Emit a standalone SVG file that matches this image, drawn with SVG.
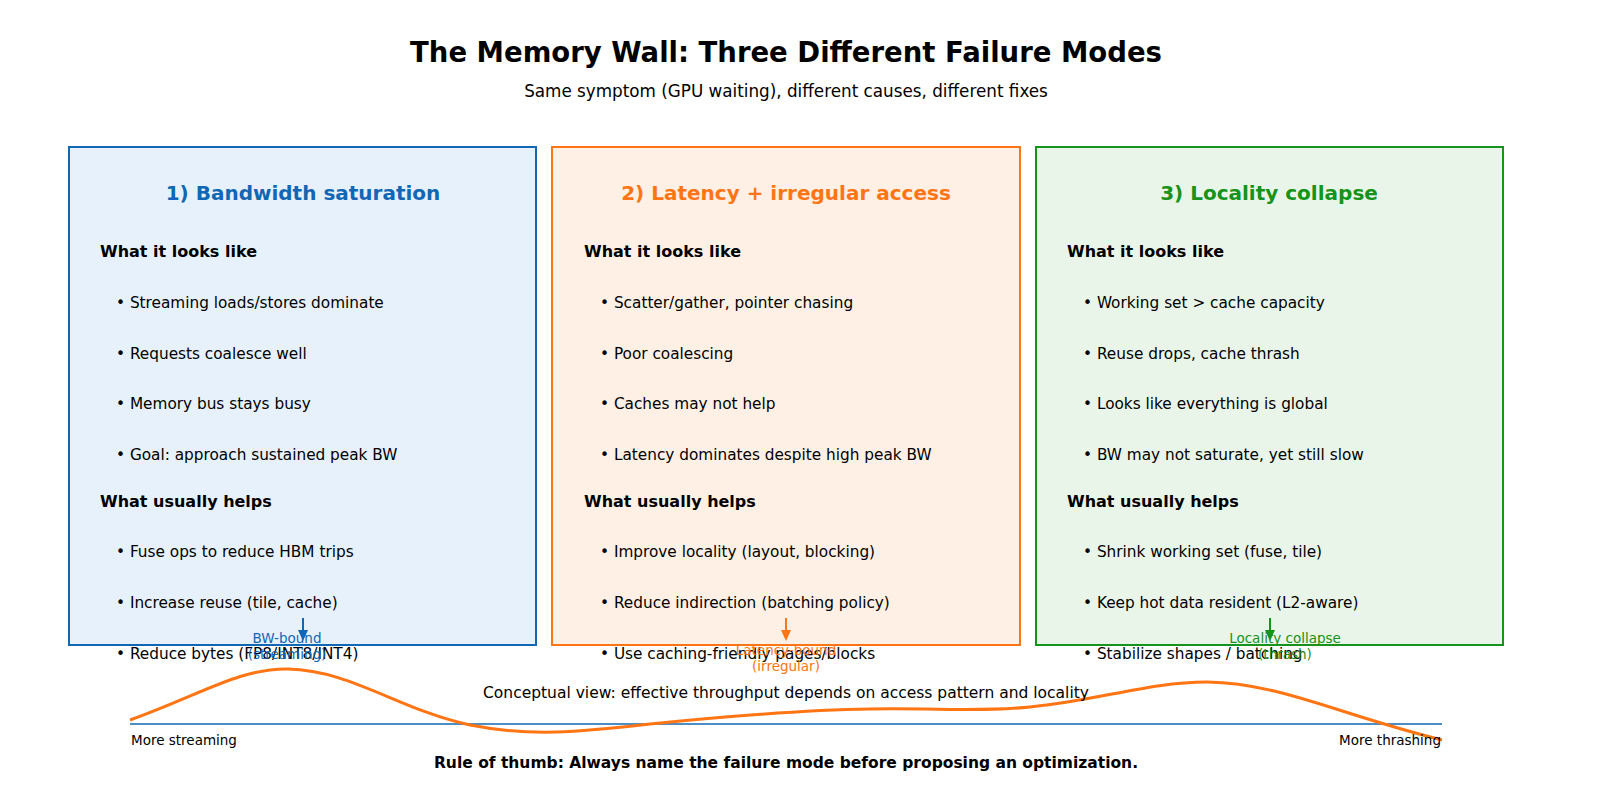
<svg xmlns="http://www.w3.org/2000/svg" width="1600" height="812" viewBox="0 0 1600 812">
<defs>
<style>
text{font-family:"DejaVu Sans",sans-serif;}
.t{font-size:27.5px;font-weight:bold;text-anchor:middle;fill:#000}
.s{font-size:16.8px;text-anchor:middle;fill:#000}
.h{font-size:20px;font-weight:bold;text-anchor:middle}
.k{font-size:16px;font-weight:bold;fill:#000}
.b{font-size:15.3px;fill:#000}
.l{font-size:13.5px;text-anchor:middle}
</style>
</defs>
<rect width="1600" height="812" fill="#fff"/>
<text class="t" x="786" y="62">The Memory Wall: Three Different Failure Modes</text>
<text class="s" x="786" y="97">Same symptom (GPU waiting), different causes, different fixes</text>
<g id="node1">
<rect x="69" y="147" width="467" height="498" fill="#e6f1fc" stroke="#1167b1" stroke-width="2"/>
<text class="h" x="303" y="200" fill="#1167b1">1) Bandwidth saturation</text>
<text class="k" x="100" y="257">What it looks like</text>
<text class="b" x="116" y="308">• Streaming loads/stores dominate</text>
<text class="b" x="116" y="359">• Requests coalesce well</text>
<text class="b" x="116" y="409">• Memory bus stays busy</text>
<text class="b" x="116" y="460">• Goal: approach sustained peak BW</text>
<text class="k" x="100" y="507">What usually helps</text>
<text class="b" x="116" y="557">• Fuse ops to reduce HBM trips</text>
<text class="b" x="116" y="608">• Increase reuse (tile, cache)</text>
<text class="b" x="116" y="659">• Reduce bytes (FP8/INT8/INT4)</text>
</g>
<g id="node2">
<rect x="552" y="147" width="468" height="498" fill="#fef0e5" stroke="#ff7514" stroke-width="2"/>
<text class="h" x="786" y="200" fill="#ff7514">2) Latency + irregular access</text>
<text class="k" x="584" y="257">What it looks like</text>
<text class="b" x="600" y="308">• Scatter/gather, pointer chasing</text>
<text class="b" x="600" y="359">• Poor coalescing</text>
<text class="b" x="600" y="409">• Caches may not help</text>
<text class="b" x="600" y="460">• Latency dominates despite high peak BW</text>
<text class="k" x="584" y="507">What usually helps</text>
<text class="b" x="600" y="557">• Improve locality (layout, blocking)</text>
<text class="b" x="600" y="608">• Reduce indirection (batching policy)</text>
<text class="b" x="600" y="659">• Use caching-friendly pages/blocks</text>
</g>
<g id="node3">
<rect x="1036" y="147" width="467" height="498" fill="#e9f5e9" stroke="#17921a" stroke-width="2"/>
<text class="h" x="1269" y="200" fill="#17921a">3) Locality collapse</text>
<text class="k" x="1067" y="257">What it looks like</text>
<text class="b" x="1083" y="308">• Working set &gt; cache capacity</text>
<text class="b" x="1083" y="359">• Reuse drops, cache thrash</text>
<text class="b" x="1083" y="409">• Looks like everything is global</text>
<text class="b" x="1083" y="460">• BW may not saturate, yet still slow</text>
<text class="k" x="1067" y="507">What usually helps</text>
<text class="b" x="1083" y="557">• Shrink working set (fuse, tile)</text>
<text class="b" x="1083" y="608">• Keep hot data resident (L2-aware)</text>
<text class="b" x="1083" y="659">• Stabilize shapes / batching</text>
</g>
<g id="connectors">
<line x1="130" y1="724" x2="1442" y2="724" stroke="#1167b1" stroke-width="1.5"/>
<path d="M130,720 C200,695 240,668 288,669 C350,670 400,710 470,725 C530,737 580,732 650,724 C730,716 800,710 870,709 C940,708 980,712 1030,707 C1100,700 1150,682 1207,682 C1280,683 1340,715 1442,740" fill="none" stroke="#ff7514" stroke-width="3"/>
<line x1="303" y1="618" x2="303" y2="632" stroke="#1167b1" stroke-width="2"/><path d="M298,630 L308,630 L303,641Z" fill="#1167b1"/>
<line x1="786" y1="618" x2="786" y2="632" stroke="#ff7514" stroke-width="2"/><path d="M781,630 L791,630 L786,641Z" fill="#ff7514"/>
<line x1="1270" y1="618" x2="1270" y2="632" stroke="#17921a" stroke-width="2"/><path d="M1265,630 L1275,630 L1270,641Z" fill="#17921a"/>
</g>
<text class="l" x="287" y="643" fill="#1167b1">BW-bound</text>
<text class="l" x="287" y="659" fill="#1167b1">(streaming)</text>
<text class="l" x="786" y="655" fill="#ff7514">Latency-bound</text>
<text class="l" x="786" y="671" fill="#ff7514">(irregular)</text>
<text class="l" x="1285" y="643" fill="#17921a">Locality collapse</text>
<text class="l" x="1285" y="659" fill="#17921a">(thrash)</text>
<text class="s" x="786" y="698" style="font-size:15.5px">Conceptual view: effective throughput depends on access pattern and locality</text>
<text class="b" x="131" y="745" style="font-size:13.5px">More streaming</text>
<text class="b" x="1441" y="745" style="font-size:13.5px;text-anchor:end">More thrashing</text>
<text class="s" x="786" y="768" style="font-size:15.5px;font-weight:bold">Rule of thumb: Always name the failure mode before proposing an optimization.</text>
</svg>
